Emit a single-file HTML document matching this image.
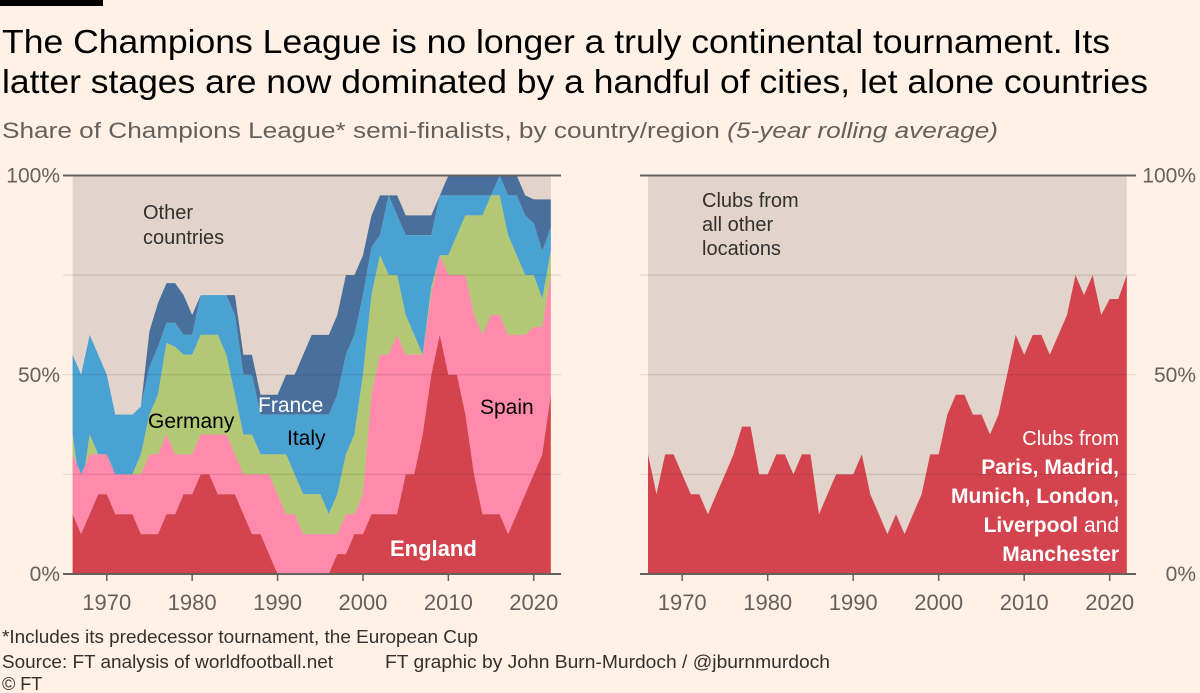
<!DOCTYPE html>
<html><head><meta charset="utf-8"><style>
html,body{margin:0;padding:0;background:#fff1e5;}
svg{display:block;font-family:"Liberation Sans",sans-serif;}
</style></head><body>
<svg id="root" width="1200" height="693" viewBox="0 0 1200 693" xmlns="http://www.w3.org/2000/svg">
<rect x="0" y="0" width="1200" height="693" fill="#fff1e5"/>
<rect x="0" y="0" width="103" height="6" fill="#000"/>
<text x="2" y="53" font-size="33" fill="#000" textLength="1108" lengthAdjust="spacingAndGlyphs">The Champions League is no longer a truly continental tournament. Its</text>
<text x="2" y="93" font-size="33" fill="#000" textLength="1146" lengthAdjust="spacingAndGlyphs">latter stages are now dominated by a handful of cities, let alone countries</text>
<text x="2" y="138" font-size="22" fill="#66605c" textLength="996" lengthAdjust="spacingAndGlyphs">Share of Champions League* semi-finalists, by country/region <tspan font-style="italic">(5-year rolling average)</tspan></text>
<g id="left"></g>
<g id="right"></g>
<text x="2" y="643" font-size="18" fill="#33302e" textLength="476" lengthAdjust="spacingAndGlyphs">*Includes its predecessor tournament, the European Cup</text>
<text x="2" y="668" font-size="18" fill="#33302e" textLength="331" lengthAdjust="spacingAndGlyphs">Source: FT analysis of worldfootball.net</text>
<text x="385" y="668" font-size="18" fill="#33302e" textLength="445" lengthAdjust="spacingAndGlyphs">FT graphic by John Burn-Murdoch / @jburnmurdoch</text>
<text x="2" y="690" font-size="18" fill="#33302e">© FT</text>
</svg>
<script>
const years = [];
for (let y = 1966; y <= 2022; y++) years.push(y);
// cumulative stacked tops (percent), bottom to top: England, Spain, Germany, Italy, France
const englandTop = [15,10,15,20,20,15,15,15,10,10,10,15,15,20,20,25,25,20,20,20,15,10,10,5,0,0,0,0,0,0,0,5,5,10,10,15,15,15,15,25,25,35,50,60,50,50,40,25,15,15,15,10,15,20,25,30,45];
const spainTop = [30,25,30,30,30,25,25,25,25,30,30,35,30,30,30,35,35,35,35,30,25,25,25,25,20,15,15,10,10,10,10,10,15,15,20,45,55,55,60,55,55,55,70,80,75,75,75,65,60,65,65,60,60,60,62,62,75];
const germanyTop = [35,20,35,30,30,25,25,25,30,40,45,58,57,55,55,60,60,60,55,45,35,35,30,30,30,30,25,20,20,20,15,20,30,35,50,70,80,75,75,65,60,55,72,80,80,85,90,90,90,95,95,85,80,75,75,69,81];
const italyTop = [55,50,60,55,50,40,40,40,42,52,57,63,63,60,60,70,70,70,70,65,50,50,40,40,40,40,40,40,40,40,40,45,55,60,70,82,85,95,90,85,85,85,85,95,95,95,95,95,95,95,100,95,95,90,88,81,87];
const franceTop = [55,50,60,55,50,40,40,40,42,61,68,73,73,70,65,70,70,70,70,70,55,55,45,45,45,50,50,55,60,60,60,65,75,75,80,90,95,95,95,90,90,90,90,95,100,100,100,100,100,100,100,100,100,95,94,94,94];
const citiesShare = [30,20,30,30,25,20,20,15,20,25,30,37,37,25,25,30,30,25,30,30,15,20,25,25,25,30,20,15,10,15,10,15,20,30,30,40,45,45,40,40,35,40,50,60,55,60,60,55,60,65,75,70,75,65,69,69,75];
const yTicks = [0,50,100];
const gridVals = [25,75];
const xTickYears = [1970,1980,1990,2000,2010,2020];

const NS = "http://www.w3.org/2000/svg";
function mk(tag, attrs, parent) {
  const e = document.createElementNS(NS, tag);
  for (const k in attrs) e.setAttribute(k, attrs[k]);
  parent.appendChild(e);
  return e;
}
const Y0 = 574, Y1 = 175.5;
function yS(v) { return Y0 - (Y0 - Y1) * v / 100; }
function xL(yr) { return 72.6 + (yr - 1966) * 8.54; }
function xR(yr) { return 648 + (yr - 1966) * 8.55; }

function areaPath(xf, top, bot) {
  let d = "";
  years.forEach((yr, i) => { d += (i ? "L" : "M") + xf(yr).toFixed(1) + "," + yS(top[i]).toFixed(1); });
  for (let i = years.length - 1; i >= 0; i--) d += "L" + xf(years[i]).toFixed(1) + "," + yS(bot ? bot[i] : 0).toFixed(1);
  return d + "Z";
}

// LEFT
const L = document.getElementById('left');
const bgL = mk('rect', {x: xL(1966), y: Y1, width: xL(2022) - xL(1966), height: Y0 - Y1, fill: '#e2d4ca'}, L);


const layers = [
  ['france-area', franceTop, italyTop, '#49709c'],
  ['italy-area', italyTop, germanyTop, '#4aa2d2'],
  ['germany-area', germanyTop, spainTop, '#b3c874'],
  ['spain-area', spainTop, englandTop, '#ff8aab'],
  ['england-area', englandTop, null, '#d4444f']
];
layers.forEach(l => {
  const p = mk('path', {d: areaPath(xL, l[1], l[2]), fill: l[3]}, L);
  
  
});
gridVals.forEach(v => {
  const g = mk('line', {x1: 63, x2: 561, y1: yS(v), y2: yS(v), stroke: '#000', 'stroke-opacity': 0.1, 'stroke-width': 1.2}, L);
  
  
});
yTicks.forEach(v => {
  const g = mk('line', {x1: 63, x2: 561, y1: yS(v), y2: yS(v), stroke: v === 50 ? '#000' : '#66605c', 'stroke-opacity': v === 50 ? 0.1 : 1, 'stroke-width': v === 50 ? 1.2 : 2}, L);
  
  
  const t = mk('text', {x: 60, y: yS(v) + 7, 'font-size': 21, fill: '#66605c', 'text-anchor': 'end'}, L);
  t.textContent = v + '%';
  
  
});
xTickYears.forEach(yr => {
  const tk = mk('line', {x1: xL(yr), x2: xL(yr), y1: Y0, y2: Y0 + 7, stroke: '#66605c', 'stroke-width': 1.5}, L);
  
  
  const t = mk('text', {x: xL(yr), y: 610, 'font-size': 22, fill: '#66605c', 'text-anchor': 'middle'}, L);
  t.textContent = yr;
  
  
});
function lab(parent, name, txt, x, y, size, fill, weight, anchor) {
  const t = mk('text', {x: x, y: y, 'font-size': size, fill: fill, 'font-weight': weight || 'normal', 'text-anchor': anchor || 'start'}, parent);
  t.textContent = txt;
  
  
  return t;
}
lab(L, 'label-other-countries', 'Other', 143, 219, 20, '#33302e');
lab(L, 'label-other-countries', 'countries', 143, 244, 20, '#33302e');
lab(L, 'label-germany', 'Germany', 148, 428, 21, '#000');
lab(L, 'label-france', 'France', 258, 412, 21, '#fff');
lab(L, 'label-italy', 'Italy', 287, 445, 21, '#000');
lab(L, 'label-spain', 'Spain', 480, 414, 21, '#000');
lab(L, 'label-england', 'England', 390, 556, 22, '#fff', 'bold');

// RIGHT
const R = document.getElementById('right');
const bgR = mk('rect', {x: xR(1966), y: Y1, width: xR(2022) - xR(1966), height: Y0 - Y1, fill: '#e2d4ca'}, R);


const pc = mk('path', {d: areaPath(xR, citiesShare, null), fill: '#d4444f'}, R);


gridVals.forEach(v => {
  const g = mk('line', {x1: 640, x2: 1136, y1: yS(v), y2: yS(v), stroke: '#000', 'stroke-opacity': 0.1, 'stroke-width': 1.2}, R);
  
  
});
yTicks.forEach(v => {
  const g = mk('line', {x1: 640, x2: 1136, y1: yS(v), y2: yS(v), stroke: v === 50 ? '#000' : '#66605c', 'stroke-opacity': v === 50 ? 0.1 : 1, 'stroke-width': v === 50 ? 1.2 : 2}, R);
  
  
  const t = mk('text', {x: 1196, y: yS(v) + 7, 'font-size': 21, fill: '#66605c', 'text-anchor': 'end'}, R);
  t.textContent = v + '%';
  
  
});
xTickYears.forEach(yr => {
  const tk = mk('line', {x1: xR(yr), x2: xR(yr), y1: Y0, y2: Y0 + 7, stroke: '#66605c', 'stroke-width': 1.5}, R);
  
  
  const t = mk('text', {x: xR(yr), y: 610, 'font-size': 22, fill: '#66605c', 'text-anchor': 'middle'}, R);
  t.textContent = yr;
  
  
});
lab(R, 'label-other-locations', 'Clubs from', 702, 207, 20, '#33302e');
lab(R, 'label-other-locations', 'all other', 702, 231, 20, '#33302e');
lab(R, 'label-other-locations', 'locations', 702, 255, 20, '#33302e');
lab(R, 'label-cities', 'Clubs from', 1119, 445, 20, '#fff', 'normal', 'end');
lab(R, 'label-cities', 'Paris, Madrid,', 1119, 474, 21, '#fff', 'bold', 'end');
lab(R, 'label-cities', 'Munich, London,', 1119, 503, 21, '#fff', 'bold', 'end');
const l4 = lab(R, 'label-cities', 'Liverpool', 1119, 532, 21, '#fff', 'bold', 'end');
const ts = mk('tspan', {'font-weight': 'normal'}, l4);
ts.textContent = ' and';
lab(R, 'label-cities', 'Manchester', 1119, 561, 21, '#fff', 'bold', 'end');
</script>
</body></html>
